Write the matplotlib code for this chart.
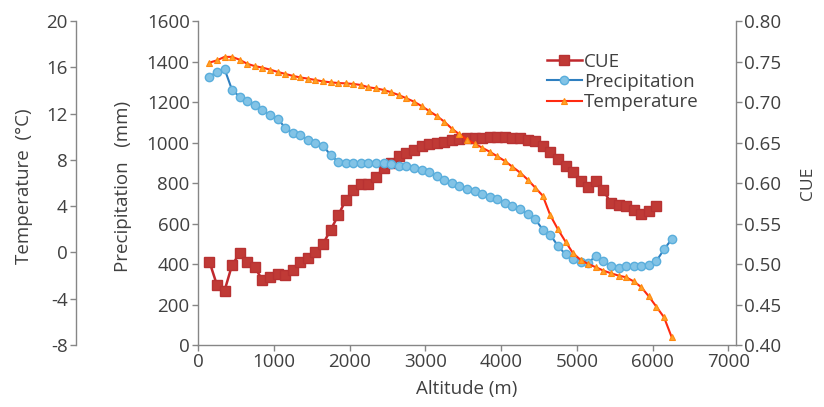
import numpy as np
import matplotlib
matplotlib.use('Agg')
import matplotlib.pyplot as plt

# ==============================================================================
# Data
#
altitude = [150, 250, 350, 450, 550, 650, 750, 850, 950, 1050,
            1150, 1250, 1350, 1450, 1550, 1650, 1750, 1850, 1950, 2050,
            2150, 2250, 2350, 2450, 2550, 2650, 2750, 2850, 2950, 3050,
            3150, 3250, 3350, 3450, 3550, 3650, 3750, 3850, 3950, 4050,
            4150, 4250, 4350, 4450, 4550, 4650, 4750, 4850, 4950, 5050,
            5150, 5250, 5350, 5450, 5550, 5650, 5750, 5850, 5950, 6050,
            6150, 6250]

cue = [0.503, 0.474, 0.467, 0.499, 0.513, 0.503, 0.496, 0.480, 0.484, 0.488,
       0.486, 0.492, 0.503, 0.507, 0.515, 0.525, 0.542, 0.560, 0.579, 0.591,
       0.599, 0.599, 0.608, 0.618, 0.625, 0.633, 0.637, 0.641, 0.646, 0.648,
       0.650, 0.651, 0.653, 0.654, 0.655, 0.656, 0.656, 0.657, 0.657, 0.657,
       0.656, 0.655, 0.653, 0.652, 0.646, 0.638, 0.630, 0.621, 0.613, 0.603,
       0.595, 0.603, 0.591, 0.575, 0.573, 0.571, 0.567, 0.562, 0.566, 0.571]

precipitation = [1325, 1348, 1363, 1259, 1226, 1205, 1184, 1160, 1136, 1118,
                 1073, 1048, 1037, 1012, 996, 984, 938, 905, 897, 897,
                 897, 897, 897, 897, 894, 885, 885, 872, 864, 853,
                 836, 815, 800, 787, 770, 760, 748, 732, 720, 703,
                 686, 670, 645, 621, 570, 543, 490, 447, 424, 410,
                 407, 438, 413, 388, 379, 390, 390, 390, 395, 415,
                 472, 522]

temperature = [16.4, 16.6, 16.9, 16.9, 16.65, 16.3, 16.1, 15.97, 15.8, 15.6,
               15.43, 15.26, 15.12, 15.02, 14.9, 14.78, 14.7, 14.64, 14.61, 14.56,
               14.47, 14.27, 14.18, 14.04, 13.84, 13.6, 13.32, 13.03, 12.65, 12.22,
               11.8, 11.3, 10.7, 10.2, 9.75, 9.4, 9.05, 8.7, 8.3, 7.9,
               7.4, 6.9, 6.3, 5.6, 4.9, 3.2, 2.0, 0.93, -0.07, -0.65,
               -1.0, -1.28, -1.57, -1.8, -2.0, -2.15, -2.5, -3.0, -3.8, -4.7,
               -5.6, -7.3]

x_ticks = [0, 1000, 2000, 3000, 4000, 5000, 6000, 7000]
precip_ticks = [0, 200, 400, 600, 800, 1000, 1200, 1400, 1600]
temp_ticks = [-8, -4, 0, 4, 8, 12, 16, 20]
cue_ticks = [0.40, 0.45, 0.50, 0.55, 0.60, 0.65, 0.70, 0.75, 0.80]

# ==============================================================================
# Style
#
FONT = ['Open Sans', 'Noto Sans CJK SC', 'DejaVu Sans']
TEXT_COLOR = '#404040'
SPINE_COLOR = '#868686'
FONT_SIZE = 13.5

plt.rcParams['font.family'] = FONT
plt.rcParams['axes.unicode_minus'] = False
plt.rcParams['font.size'] = FONT_SIZE

# ==============================================================================
# Plot
#
fig = plt.figure(figsize=(8.24, 4.07), dpi=100)
ax = fig.add_axes([0.2403, 0.1523, 0.8932 - 0.2403, 0.9484 - 0.1523])
ax_c = ax.twinx()
ax_t = ax.twinx()
ax_c.set_zorder(1)
ax.set_zorder(2)
ax_t.set_zorder(3)
ax.patch.set_visible(False)
ax_t.patch.set_visible(False)

line_c, = ax_c.plot(altitude[:len(cue)], cue, color='#c0282d', lw=1.8,
                    marker='s', ms=6.5, mfc='#c03a36', mec='#b83232',
                    label='CUE')
line_p, = ax.plot(altitude, precipitation, color='#2e7fc0', lw=1.5,
                  marker='o', ms=6, mfc='#82c3e6', mec='#5aaedc', mew=1,
                  label='Precipitation')
line_t, = ax_t.plot(altitude, temperature, color='#ff2a10', lw=1.5,
                    marker='^', ms=5, mfc='#ffa22a', mec='#ff8a10', mew=0.8,
                    label='Temperature')

                                                                        # x axis
ax.set_xlim(0, 7100)
ax.set_xticks(x_ticks)
ax.set_xlabel('Altitude (m)', color=TEXT_COLOR, fontsize=FONT_SIZE)
ax.xaxis.set_label_coords(0.5, -0.108)
                                                                # precipitation
ax.set_ylim(0, 1600)
ax.set_yticks(precip_ticks)
ax.set_ylabel('Precipitation   (mm)', color=TEXT_COLOR, fontsize=FONT_SIZE)
ax.yaxis.set_label_coords(-0.1227, 0.49)
                                                                          # CUE
ax_c.set_ylim(0.40, 0.80)
ax_c.set_yticks(cue_ticks)
ax_c.set_yticklabels(['%.2f' % v for v in cue_ticks])
ax_c.set_ylabel('CUE', color=TEXT_COLOR, fontsize=12.5)
ax_c.yaxis.set_label_coords(1.119, 0.5)
                                                                  # temperature
ax_t.set_ylim(-8, 20)
ax_t.set_yticks(temp_ticks)
ax_t.spines['left'].set_position(('axes', -0.2268))
ax_t.spines['left'].set_visible(True)
ax_t.yaxis.set_ticks_position('left')
ax_t.yaxis.set_label_position('left')
ax_t.set_ylabel('Temperature  (°C)', color=TEXT_COLOR, fontsize=FONT_SIZE)
ax_t.yaxis.set_label_coords(-0.3067, 0.49)

for a in (ax, ax_c, ax_t):
    a.spines['top'].set_visible(False)
    for s in a.spines.values():
        s.set_color(SPINE_COLOR)
        s.set_linewidth(1.0)
    a.tick_params(colors=SPINE_COLOR, labelcolor=TEXT_COLOR,
                  labelsize=FONT_SIZE, length=4, width=1, pad=2)
ax.spines['right'].set_visible(False)
ax_t.spines['right'].set_visible(False)
ax_t.spines['bottom'].set_visible(False)
ax_c.spines['left'].set_visible(False)
ax_c.spines['bottom'].set_visible(False)

                                                                       # legend
ax_t.legend(handles=[line_c, line_p, line_t], loc='upper left',
            bbox_to_anchor=(0.635, 0.925), frameon=False, handlelength=1.85,
            handletextpad=0.1, labelspacing=0.12, borderaxespad=0,
            fontsize=FONT_SIZE, labelcolor=TEXT_COLOR)

fig.savefig('out.png', dpi=100, facecolor='white')
